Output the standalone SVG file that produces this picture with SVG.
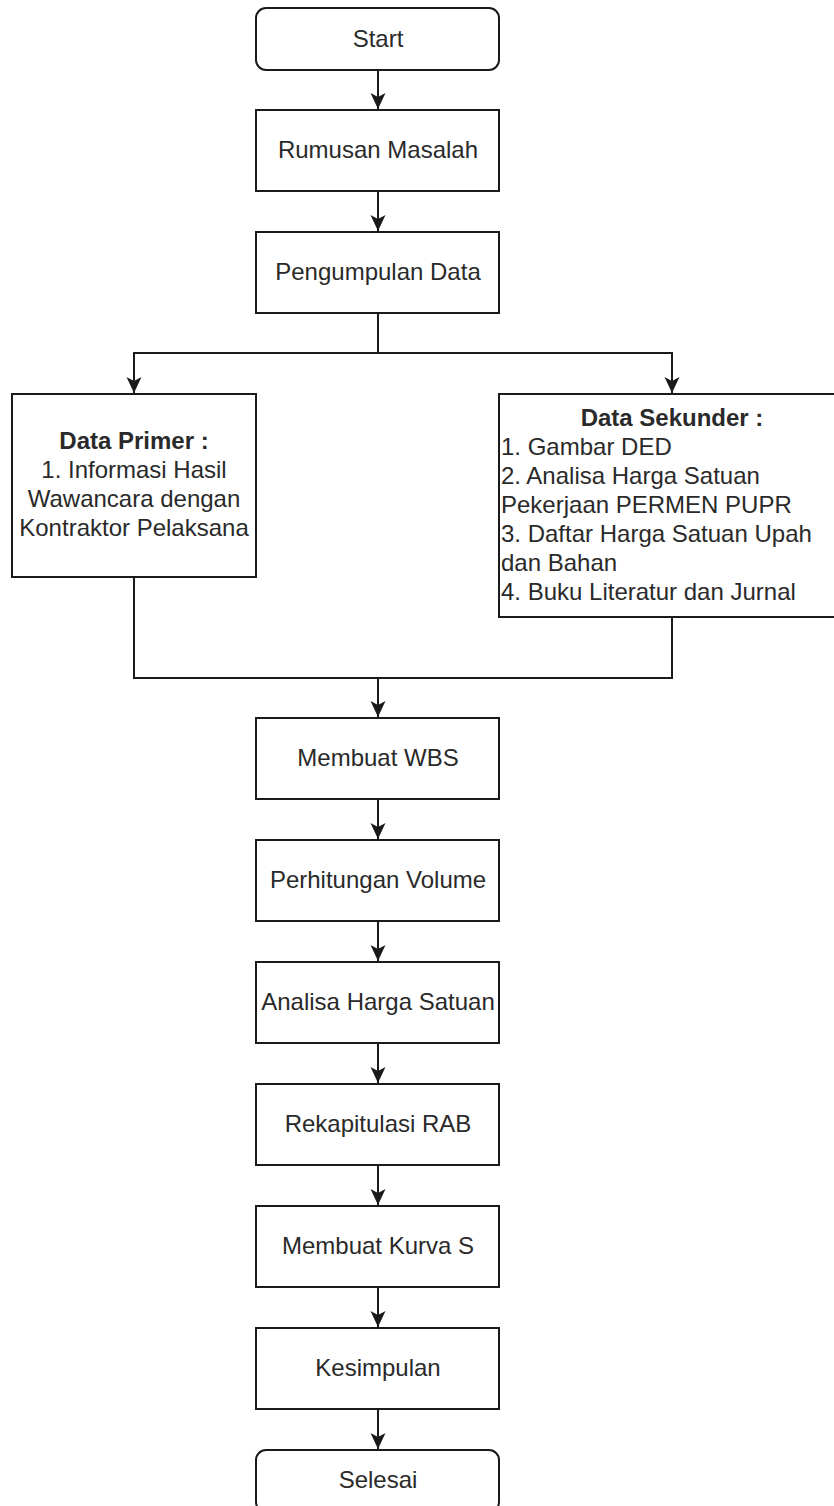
<svg xmlns="http://www.w3.org/2000/svg" width="834" height="1506" viewBox="0 0 834 1506">
<style>
.box{fill:#fff;stroke:#1a1a1a;stroke-width:2}
.t{font-family:"Liberation Sans",Arial,sans-serif;font-size:24px;fill:#2a2a2a;text-anchor:middle}
.l{font-family:"Liberation Sans",Arial,sans-serif;font-size:24px;fill:#2a2a2a}
.b{font-weight:bold}
.c{fill:none;stroke:#1a1a1a;stroke-width:2}
</style>
<defs>
<marker id="a" viewBox="0 0 16 16" refX="16" refY="8" markerWidth="16" markerHeight="16" markerUnits="userSpaceOnUse" orient="auto">
<path d="M0,0.5 L16,8 L0,15.5 L4,8 Z" fill="#1a1a1a"/>
</marker>
</defs>
<g id="connectors">
<path class="c" d="M378,70 V109" marker-end="url(#a)"/>
<path class="c" d="M378,191 V231" marker-end="url(#a)"/>
<path class="c" d="M378,313 V353 H134 V393" marker-end="url(#a)"/>
<path class="c" d="M378,353 H672 V393" marker-end="url(#a)"/>
<path class="c" d="M134,577 V678 H672 V617"/>
<path class="c" d="M378,678 V717" marker-end="url(#a)"/>
<path class="c" d="M378,799 V839" marker-end="url(#a)"/>
<path class="c" d="M378,921 V961" marker-end="url(#a)"/>
<path class="c" d="M378,1043 V1083" marker-end="url(#a)"/>
<path class="c" d="M378,1165 V1205" marker-end="url(#a)"/>
<path class="c" d="M378,1287 V1327" marker-end="url(#a)"/>
<path class="c" d="M378,1409 V1449" marker-end="url(#a)"/>
</g>
<g id="start"><rect class="box" x="256" y="8" width="243" height="62" rx="10"/><text class="t" x="378" y="47">Start</text></g>
<g id="rumusan"><rect class="box" x="256" y="110" width="243" height="81"/><text class="t" x="378" y="158">Rumusan Masalah</text></g>
<g id="pengumpulan"><rect class="box" x="256" y="232" width="243" height="81"/><text class="t" x="378" y="280">Pengumpulan Data</text></g>
<g id="primer"><rect class="box" x="12" y="394" width="244" height="183"/>
<text class="t" x="134" y="449"><tspan class="b">Data Primer :</tspan><tspan x="134" y="478">1. Informasi Hasil</tspan><tspan x="134" y="507">Wawancara dengan</tspan><tspan x="134" y="536">Kontraktor Pelaksana</tspan></text></g>
<g id="sekunder"><rect class="box" x="499" y="394" width="346" height="223"/>
<text class="t b" x="672" y="426">Data Sekunder :</text>
<text class="l" x="501" y="455">1. Gambar DED<tspan x="501" y="484">2. Analisa Harga Satuan</tspan><tspan x="501" y="513">Pekerjaan PERMEN PUPR</tspan><tspan x="501" y="542">3. Daftar Harga Satuan Upah</tspan><tspan x="501" y="571">dan Bahan</tspan><tspan x="501" y="600">4. Buku Literatur dan Jurnal</tspan></text></g>
<g id="wbs"><rect class="box" x="256" y="718" width="243" height="81"/><text class="t" x="378" y="766">Membuat WBS</text></g>
<g id="volume"><rect class="box" x="256" y="840" width="243" height="81"/><text class="t" x="378" y="888">Perhitungan Volume</text></g>
<g id="analisa"><rect class="box" x="256" y="962" width="243" height="81"/><text class="t" x="378" y="1010">Analisa Harga Satuan</text></g>
<g id="rab"><rect class="box" x="256" y="1084" width="243" height="81"/><text class="t" x="378" y="1132">Rekapitulasi RAB</text></g>
<g id="kurva"><rect class="box" x="256" y="1206" width="243" height="81"/><text class="t" x="378" y="1254">Membuat Kurva S</text></g>
<g id="kesimpulan"><rect class="box" x="256" y="1328" width="243" height="81"/><text class="t" x="378" y="1376">Kesimpulan</text></g>
<g id="selesai"><rect class="box" x="256" y="1450" width="243" height="62" rx="10"/><text class="t" x="378" y="1488">Selesai</text></g>
</svg>
